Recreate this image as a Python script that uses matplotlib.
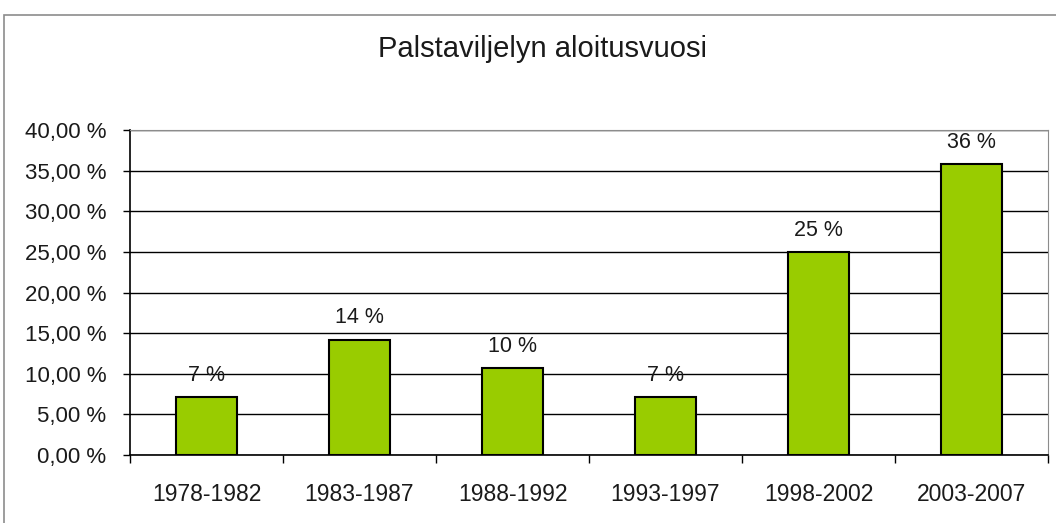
import numpy as np
import matplotlib.pyplot as plt
from matplotlib.patches import Rectangle

# data
periods = ['1978-1982', '1983-1987', '1988-1992', '1993-1997', '1998-2002', '2003-2007']
shares = [7.1, 14.2, 10.7, 7.1, 25.0, 35.8]  # percent
bar_labels = ['7 %', '14 %', '10 %', '7 %', '25 %', '36 %']
y_ticks = [0, 5, 10, 15, 20, 25, 30, 35, 40]

plt.rcParams['font.family'] = ['Liberation Sans', 'DejaVu Sans']
fig = plt.figure(figsize=(10.56, 5.23), dpi=100)

# outer chart frame (runs off right and bottom edge)
fig.patches.append(Rectangle((4 / 1056, -0.05), 1.1, 1 - 15 / 523 + 0.05,
                             transform=fig.transFigure, fill=False,
                             edgecolor='#8c8c8c', linewidth=1.2))

ax = fig.add_axes([130 / 1056, 1 - 455 / 523, (1048 - 130) / 1056, (455 - 130) / 523])
x = np.arange(len(periods))
ax.bar(x, shares, width=0.4, color='#99cc00', edgecolor='black', linewidth=1.5, zorder=3)

for xi, v, lab in zip(x, shares, bar_labels):
    ax.text(xi, v + 1.4, lab, ha='center', va='bottom', fontsize=15.5, color='#1a1a1a', zorder=4)

ax.set_xlim(-0.5, len(periods) - 0.5)
ax.set_ylim(0, 40)
ax.set_yticks(y_ticks)
ax.set_yticklabels([f'{t},00 %' for t in y_ticks], fontsize=16, color='#1a1a1a')
ax.set_xticks(x)
ax.set_xticklabels(periods, fontsize=16.5, color='#1a1a1a')
ax.tick_params(axis='x', length=0, pad=20)
ax.set_xticks(np.arange(len(periods) + 1) - 0.5, minor=True)
ax.tick_params(axis='x', which='minor', length=6, width=1, direction='out')
ax.tick_params(axis='y', length=5, width=1, direction='out', pad=12)

ax.grid(axis='y', color='black', linewidth=1, zorder=0)
ax.spines['left'].set_color('black')
ax.spines['bottom'].set_color('black')
ax.spines['left'].set_linewidth(1.2)
ax.spines['bottom'].set_linewidth(1.2)
ax.spines['top'].set_color('#8c8c8c')
ax.spines['right'].set_color('#8c8c8c')

fig.text(542 / 1056, 1 - 49 / 523, 'Palstaviljelyn aloitusvuosi', ha='center', va='center',
         fontsize=21, color='#1a1a1a')

fig.savefig('out.png', dpi=100)
